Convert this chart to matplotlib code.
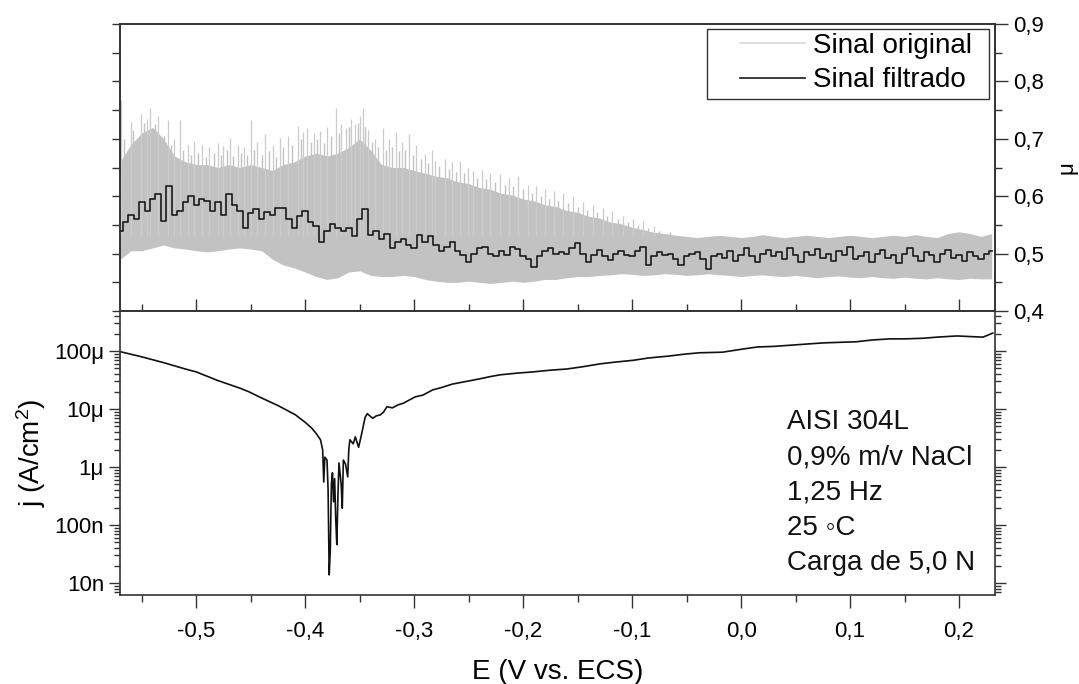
import numpy as np
import matplotlib
matplotlib.use("Agg")
import matplotlib.pyplot as plt
from matplotlib.lines import Line2D
from matplotlib.patches import Rectangle
from matplotlib.ticker import FixedLocator, FuncFormatter, LogLocator, MultipleLocator, NullFormatter

plt.rcParams["font.family"] = ["Liberation Sans", "DejaVu Sans"]
plt.rcParams["mathtext.fontset"] = "custom"
plt.rcParams["mathtext.rm"] = "Liberation Sans"
plt.rcParams["mathtext.it"] = "Liberation Sans"

# ---- top panel: friction coefficient (mu) ----
# filtered signal, uniform E grid from -0.57 to 0.23 (step 0.005)
E_filt = np.linspace(-0.57, 0.23, 161)
mu_filt = [
    0.540, 0.555, 0.568, 0.560, 0.590, 0.575, 0.595, 0.603, 0.556, 0.617,
    0.568, 0.575, 0.590, 0.600, 0.585, 0.595, 0.591, 0.575, 0.590, 0.568,
    0.603, 0.585, 0.575, 0.544, 0.570, 0.577, 0.560, 0.572, 0.568, 0.580,
    0.579, 0.560, 0.544, 0.565, 0.574, 0.555, 0.548, 0.521, 0.540, 0.551,
    0.545, 0.539, 0.545, 0.530, 0.560, 0.577, 0.533, 0.540, 0.526, 0.535,
    0.509, 0.520, 0.526, 0.515, 0.509, 0.533, 0.520, 0.530, 0.515, 0.504,
    0.512, 0.521, 0.505, 0.498, 0.486, 0.500, 0.510, 0.512, 0.500, 0.495,
    0.504, 0.498, 0.512, 0.508, 0.495, 0.490, 0.477, 0.495, 0.505, 0.509,
    0.500, 0.503, 0.500, 0.510, 0.518, 0.500, 0.486, 0.498, 0.507, 0.495,
    0.489, 0.500, 0.505, 0.498, 0.495, 0.505, 0.512, 0.481, 0.495, 0.502,
    0.498, 0.500, 0.490, 0.481, 0.495, 0.500, 0.503, 0.490, 0.474, 0.495,
    0.500, 0.492, 0.505, 0.488, 0.498, 0.510, 0.495, 0.485, 0.500, 0.506,
    0.495, 0.502, 0.490, 0.510, 0.498, 0.485, 0.503, 0.497, 0.508, 0.492,
    0.500, 0.488, 0.505, 0.498, 0.512, 0.490, 0.495, 0.503, 0.485, 0.500,
    0.507, 0.492, 0.498, 0.484, 0.500, 0.510, 0.495, 0.488, 0.503, 0.497,
    0.485, 0.500, 0.506, 0.492, 0.498, 0.488, 0.503, 0.495, 0.490, 0.500,
    0.505,
]

# original signal: band envelope (step 0.01) plus spikes above it
E_band = np.linspace(-0.57, 0.23, 81)
mu_upper = [
    0.660, 0.690, 0.710, 0.720, 0.700, 0.670, 0.660, 0.655, 0.655, 0.650,
    0.655, 0.650, 0.655, 0.650, 0.645, 0.655, 0.660, 0.670, 0.675, 0.670,
    0.675, 0.685, 0.700, 0.680, 0.655, 0.650, 0.650, 0.645, 0.640, 0.635,
    0.632, 0.625, 0.622, 0.615, 0.612, 0.605, 0.602, 0.595, 0.592, 0.585,
    0.582, 0.575, 0.572, 0.565, 0.562, 0.555, 0.552, 0.546, 0.542, 0.537,
    0.535, 0.532, 0.530, 0.528, 0.530, 0.532, 0.530, 0.528, 0.530, 0.533,
    0.530, 0.528, 0.530, 0.532, 0.530, 0.528, 0.530, 0.532, 0.530, 0.528,
    0.530, 0.532, 0.530, 0.533, 0.530, 0.528, 0.535, 0.538, 0.535, 0.530,
    0.535,
]
mu_lower = [
    0.490, 0.505, 0.505, 0.510, 0.515, 0.510, 0.508, 0.505, 0.503, 0.505,
    0.508, 0.510, 0.508, 0.505, 0.490, 0.480, 0.475, 0.468, 0.460, 0.455,
    0.458, 0.468, 0.470, 0.462, 0.460, 0.460, 0.462, 0.460, 0.455, 0.452,
    0.450, 0.450, 0.452, 0.450, 0.448, 0.450, 0.452, 0.450, 0.452, 0.455,
    0.455, 0.458, 0.460, 0.460, 0.462, 0.463, 0.465, 0.464, 0.462, 0.463,
    0.465, 0.464, 0.462, 0.463, 0.465, 0.463, 0.462, 0.460, 0.462, 0.463,
    0.461, 0.460, 0.462, 0.460, 0.458, 0.460, 0.461, 0.459, 0.458, 0.460,
    0.458, 0.457, 0.459, 0.457, 0.456, 0.458, 0.456, 0.455, 0.457, 0.456,
    0.456,
]
# tallest spikes
E_spike = [
    -0.569, -0.560, -0.551, -0.545, -0.542, -0.535, -0.526, -0.520, -0.515, -0.508,
    -0.502, -0.495, -0.488, -0.480, -0.475, -0.469, -0.462, -0.456, -0.450, -0.444,
    -0.437, -0.430, -0.423, -0.416, -0.407, -0.402, -0.398, -0.392, -0.386, -0.380,
    -0.372, -0.367, -0.363, -0.358, -0.354, -0.350, -0.347, -0.342, -0.336, -0.329,
    -0.323, -0.317, -0.311, -0.305, -0.298, -0.290, -0.284, -0.281, -0.272, -0.265,
    -0.258, -0.251, -0.246, -0.238, -0.230, -0.221, -0.213, -0.205, -0.196, -0.188,
    -0.180, -0.172, -0.163, -0.154, -0.145, -0.136, -0.127, -0.118, -0.108, -0.099,
    -0.090, -0.080,
]
mu_spike = [
    0.767, 0.730, 0.744, 0.735, 0.754, 0.740, 0.732, 0.700, 0.732, 0.690,
    0.696, 0.690, 0.685, 0.692, 0.688, 0.702, 0.690, 0.685, 0.732, 0.695,
    0.709, 0.690, 0.702, 0.705, 0.723, 0.712, 0.719, 0.710, 0.714, 0.720,
    0.753, 0.725, 0.719, 0.735, 0.726, 0.740, 0.753, 0.715, 0.700, 0.719,
    0.700, 0.711, 0.695, 0.709, 0.690, 0.674, 0.680, 0.661, 0.665, 0.660,
    0.661, 0.650, 0.644, 0.645, 0.640, 0.638, 0.632, 0.635, 0.620, 0.618,
    0.612, 0.609, 0.605, 0.600, 0.590, 0.585, 0.579, 0.575, 0.565, 0.560,
    0.556, 0.548,
]
# shorter spikes making the ragged top edge
E_grass = [
    -0.566, -0.558, -0.548, -0.538, -0.530, -0.523, -0.512, -0.505, -0.498, -0.491,
    -0.484, -0.477, -0.472, -0.466, -0.459, -0.453, -0.447, -0.440, -0.433, -0.427,
    -0.420, -0.412, -0.404, -0.395, -0.389, -0.383, -0.376, -0.369, -0.360, -0.352,
    -0.345, -0.339, -0.333, -0.326, -0.320, -0.314, -0.308, -0.301, -0.294, -0.287,
    -0.277, -0.268, -0.262, -0.254, -0.242, -0.234, -0.226, -0.217, -0.209, -0.200,
    -0.192, -0.184, -0.176, -0.168, -0.159, -0.150, -0.141, -0.132, -0.123, -0.113,
    -0.104, -0.095, -0.085, -0.075, -0.065,
]
mu_grass = [
    0.700, 0.715, 0.728, 0.725, 0.705, 0.690, 0.680, 0.672, 0.675, 0.668,
    0.675, 0.672, 0.680, 0.670, 0.675, 0.672, 0.680, 0.672, 0.678, 0.668,
    0.685, 0.690, 0.700, 0.695, 0.700, 0.692, 0.705, 0.710, 0.720, 0.728,
    0.720, 0.695, 0.685, 0.680, 0.685, 0.678, 0.680, 0.672, 0.665, 0.658,
    0.652, 0.648, 0.642, 0.640, 0.632, 0.630, 0.625, 0.620, 0.618, 0.612,
    0.605, 0.600, 0.596, 0.592, 0.588, 0.582, 0.576, 0.572, 0.566, 0.560,
    0.555, 0.550, 0.545, 0.540, 0.537,
]

# ---- bottom panel: current density (log10 j, A/cm2) ----
E_j = [
    -0.570, -0.550, -0.530, -0.510, -0.500, -0.480, -0.460, -0.452, -0.440, -0.425,
    -0.409, -0.400, -0.394, -0.390, -0.386, -0.384, -0.383, -0.382, -0.380, -0.379,
    -0.378, -0.377, -0.376, -0.375, -0.374, -0.373, -0.372, -0.371, -0.370, -0.369,
    -0.367, -0.366, -0.365, -0.363, -0.361, -0.360, -0.359, -0.356, -0.354, -0.351,
    -0.348, -0.345, -0.343, -0.340, -0.338, -0.335, -0.331, -0.328, -0.325, -0.320,
    -0.315, -0.310, -0.305, -0.299, -0.292, -0.283, -0.275, -0.265, -0.251, -0.240,
    -0.230, -0.221, -0.205, -0.191, -0.175, -0.160, -0.145, -0.129, -0.115, -0.099,
    -0.085, -0.068, -0.050, -0.038, -0.017, 0.000, 0.015, 0.030, 0.045, 0.060,
    0.075, 0.090, 0.106, 0.120, 0.137, 0.150, 0.167, 0.180, 0.198, 0.210,
    0.222, 0.226, 0.231,
]
logj = [
    -4.01, -4.10, -4.20, -4.31, -4.36, -4.51, -4.64, -4.70, -4.81, -4.94,
    -5.10, -5.23, -5.33, -5.42, -5.53, -5.70, -6.26, -5.83, -5.88, -6.40,
    -7.86, -7.43, -6.30, -6.10, -6.60, -6.20, -6.90, -7.34, -6.50, -5.93,
    -6.30, -6.71, -5.88, -5.95, -6.17, -5.70, -5.53, -5.60, -5.48, -5.66,
    -5.41, -5.14, -5.08, -5.13, -5.16, -5.12, -5.10, -5.05, -4.96, -4.98,
    -4.93, -4.90, -4.85, -4.79, -4.76, -4.67, -4.63, -4.57, -4.52, -4.48,
    -4.44, -4.41, -4.38, -4.36, -4.33, -4.31, -4.27, -4.22, -4.19, -4.16,
    -4.12, -4.09, -4.05, -4.03, -4.02, -3.97, -3.93, -3.92, -3.90, -3.88,
    -3.86, -3.85, -3.84, -3.81, -3.79, -3.79, -3.78, -3.76, -3.74, -3.75,
    -3.76, -3.73, -3.69,
]

annot_lines = ["AISI 304L", "0,9% m/v NaCl", "1,25 Hz", "25 \u25e6C", "Carga de 5,0 N"]
j_ticks = [1e-8, 1e-7, 1e-6, 1e-5, 1e-4]
j_ticklabels = ["10n", "100n", "1\u03bc", "10\u03bc", "100\u03bc"]

spine_c = "#333333"
band_c = "#c2c2c2"
fs_tick = 16
fs_lab = 20


def comma_fmt(v, pos):
    if abs(v) < 1e-9:
        v = 0.0
    return f"{v:.1f}".replace(".", ",")


fig = plt.figure(figsize=(10.79, 6.84), dpi=100)
ax_top = fig.add_axes([0.1112, 0.5453, 0.8109, 0.4196])
ax_bot = fig.add_axes([0.1112, 0.1301, 0.8109, 0.4152], sharex=ax_top)

# top panel
ax_top.fill_between(E_band, mu_lower, mu_upper, color=band_c, linewidth=0, zorder=1)
ax_top.vlines(E_grass, 0.53, mu_grass, color=band_c, linewidth=1.0, zorder=1)
ax_top.vlines(E_spike, 0.53, mu_spike, color="#cbcbcb", linewidth=0.9, zorder=1)
ax_top.step(E_filt, mu_filt, where="mid", color="#1a1a1a", linewidth=1.2, zorder=3)
ax_top.set_xlim(-0.57, 0.233)
ax_top.set_ylim(0.4, 0.9)
ax_top.yaxis.set_major_locator(MultipleLocator(0.05))
ax_top.tick_params(axis="y", which="both", left=True, right=False, labelleft=False,
                   direction="out", length=6, width=1, color=spine_c)
ax_top.xaxis.set_major_locator(MultipleLocator(0.1))
ax_top.xaxis.set_minor_locator(MultipleLocator(0.05))
ax_top.tick_params(axis="x", which="major", bottom=True, top=False, labelbottom=False,
                   direction="in", length=9, width=1, color=spine_c)
ax_top.tick_params(axis="x", which="minor", bottom=True, top=False,
                   direction="in", length=5, width=1, color=spine_c)

ax_r = ax_top.twinx()
ax_r.set_ylim(0.4, 0.9)
ax_r.yaxis.set_major_locator(MultipleLocator(0.1))
ax_r.yaxis.set_minor_locator(MultipleLocator(0.05))
ax_r.yaxis.set_major_formatter(FuncFormatter(comma_fmt))
ax_r.tick_params(axis="y", which="major", direction="out", length=9, width=1,
                 color=spine_c, labelsize=fs_tick, pad=4)
ax_r.tick_params(axis="y", which="minor", direction="out", length=5, width=1, color=spine_c)
ax_r.set_ylabel("\u03bc", fontsize=fs_tick, labelpad=9)

# legend: frameless legend + a separate box, the box is wider than the content
handles = [Line2D([], [], color="#dadada", linewidth=1.2),
           Line2D([], [], color="#1a1a1a", linewidth=1.2)]
ax_top.legend(handles, ["Sinal original", "Sinal filtrado"], loc="upper right",
              bbox_to_anchor=(0.9737, 0.9686), borderaxespad=0, borderpad=0,
              fontsize=fs_lab, frameon=False, handlelength=2.34, handletextpad=0.3,
              labelspacing=0.3)
ax_top.add_patch(Rectangle((0.6709, 0.7387), 0.3222, 0.2439, transform=ax_top.transAxes,
                           facecolor="white", edgecolor=spine_c, linewidth=1, zorder=4))

# bottom panel
ax_bot.plot(E_j, 10.0 ** np.array(logj), color="#111111", linewidth=1.2)
ax_bot.set_yscale("log")
ax_bot.set_ylim(6.2e-9, 4.9e-4)
ax_bot.yaxis.set_major_locator(FixedLocator(j_ticks))
ax_bot.yaxis.set_major_formatter(FuncFormatter(lambda v, p: j_ticklabels[j_ticks.index(v)] if v in j_ticks else ""))
ax_bot.yaxis.set_minor_locator(LogLocator(base=10, subs=range(2, 10), numticks=50))
ax_bot.yaxis.set_minor_formatter(NullFormatter())
ax_bot.tick_params(axis="y", which="major", left=True, right=True, direction="out",
                   length=8, width=1, color=spine_c, labelsize=fs_tick)
ax_bot.tick_params(axis="y", which="minor", left=True, right=True, direction="out",
                   length=4, width=1, color=spine_c)
ax_bot.xaxis.set_major_formatter(FuncFormatter(comma_fmt))
ax_bot.tick_params(axis="x", which="major", bottom=True, top=False, labelbottom=True,
                   direction="out", length=9, width=1, color=spine_c, labelsize=fs_tick, pad=10)
ax_bot.tick_params(axis="x", which="minor", bottom=True, top=False,
                   direction="out", length=5, width=1, color=spine_c)
ax_bot.set_xlabel("E (V vs. ECS)", fontsize=fs_lab, labelpad=12)
ax_bot.set_ylabel("j (A/cm$^2$)", fontsize=fs_lab, labelpad=4)

for i, line in enumerate(annot_lines):
    ax_bot.text(0.762, 0.609 - i * 0.124, line, transform=ax_bot.transAxes,
                fontsize=fs_lab, va="center", ha="left", color="#111111")

for ax in (ax_top, ax_bot, ax_r):
    for sp in ax.spines.values():
        sp.set_color(spine_c)
        sp.set_linewidth(1.2)

fig.savefig("out.png", dpi=100)
